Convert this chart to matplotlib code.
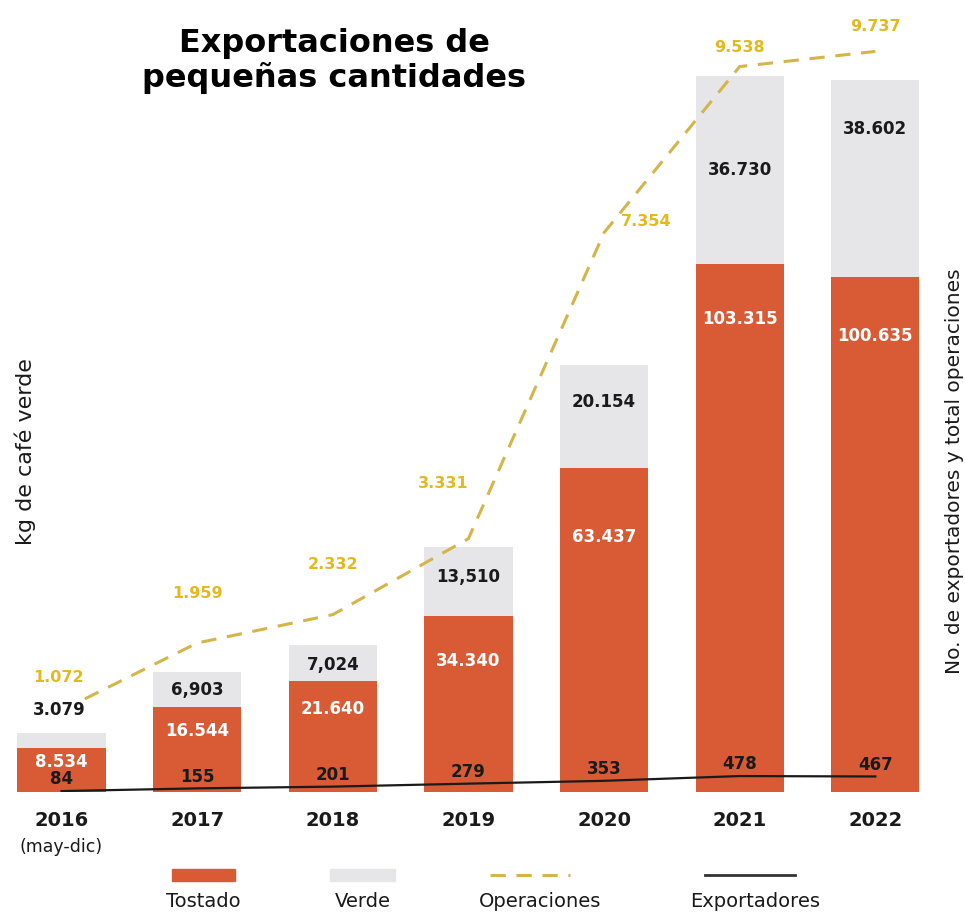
import matplotlib.pyplot as plt
from matplotlib.patches import Rectangle
from matplotlib.lines import Line2D

years = ['2016', '2017', '2018', '2019', '2020', '2021', '2022']
tostado = [8534, 16544, 21640, 34340, 63437, 103315, 100635]
verde = [3079, 6903, 7024, 13510, 20154, 36730, 38602]
verde_labels = ['3.079', '6,903', '7,024', '13,510', '20.154', '36.730', '38.602']
operaciones = [1072, 1959, 2332, 3331, 7354, 9538, 9737]
exportadores = [84, 155, 201, 279, 353, 478, 467]

c_tost = '#D85B35'
c_verde = '#E6E6E8'
c_oper = '#D4B54A'
c_oper_txt = '#E5B81E'

W, H = 965, 913
fig = plt.figure(figsize=(W / 100, H / 100), dpi=100)
ax = fig.add_axes([10 / W, 1 - 792 / H, 925 / W, 772 / H])
ax2 = ax.twinx()
ax3 = ax.twinx()

x = list(range(len(years)))
ax.bar(x, tostado, width=0.65, color=c_tost, zorder=2)
ax.bar(x, verde, width=0.65, bottom=tostado, color=c_verde, zorder=2)
ax.set_xlim(-0.38, 6.44)
ax.set_ylim(0, 151000)

fmt = lambda v: f'{v:,}'.replace(',', '.')
tost_off = [-10, -17, -20, -32, -50, -40, -42]
verde_off = [16, -13, -14, -21, -27, -68, -35]
for i in x:
    ax.annotate(fmt(tostado[i]), (i, tostado[i]), xytext=(0, tost_off[i]),
                textcoords='offset points', ha='center', va='center',
                color='white', fontsize=12, fontweight='bold', zorder=5)
    top = tostado[i] + verde[i]
    if i == 0:
        # sits on top of the dashed line start, like the original
        ax3.annotate(verde_labels[i], (i, top), xycoords=ax.transData, xytext=(-2, verde_off[i]),
                     textcoords='offset points', ha='center', va='center',
                     fontsize=12, fontweight='bold', color='#1a1a1a', zorder=6,
                     bbox=dict(boxstyle='square,pad=0.1', fc='white', ec='none'))
    else:
        ax.annotate(verde_labels[i], (i, top), xytext=(0, verde_off[i]),
                    textcoords='offset points', ha='center', va='center',
                    fontsize=12, fontweight='bold', color='#1a1a1a', zorder=5)

ax2.plot(x, operaciones, color=c_oper, lw=2.2, ls=(0, (5, 3.5)), zorder=3)
ax2.set_ylim(0, 10150)
oper_off = [(-2, 24), (0, 36), (0, 36), (-18, 40), (30, 8), (0, 14), (0, 18)]
for i in x:
    ax2.annotate(fmt(operaciones[i]), (i, operaciones[i]), xytext=oper_off[i],
                 textcoords='offset points', ha='center', va='center',
                 color=c_oper_txt, fontsize=11.5, fontweight='bold')

ax3.plot(x, exportadores, color='#1a1a1a', lw=1.6, zorder=4)
ax3.set_ylim(60, 20300)
for i in x:
    ax3.annotate(str(exportadores[i]), (i, exportadores[i]), xytext=(0, 8.5),
                 textcoords='offset points', ha='center', va='center',
                 color='#1a1a1a', fontsize=12, fontweight='bold', zorder=6)

for a in (ax, ax2, ax3):
    a.set_yticks([])
    for s in a.spines.values():
        s.set_visible(False)
ax2.set_xticks([])
ax3.set_xticks([])
ax.set_xticks(x)
ax.set_xticklabels(years, fontsize=14, fontweight='bold', color='#1a1a1a')
ax.tick_params(axis='x', length=0, pad=14)
ax.text(0, -0.071, '(may-dic)', transform=ax.get_xaxis_transform(),
        ha='center', va='center', fontsize=12.5, color='#1a1a1a')

fig.text(25 / W, 1 - 452 / H, 'kg de café verde', rotation=90, ha='center', va='center',
         fontsize=16, color='#1a1a1a')
fig.text(955 / W, 1 - 471 / H, 'No. de exportadores y total operaciones', rotation=90,
         ha='center', va='center', fontsize=14.5, color='#1a1a1a')
fig.text(334 / W, 1 - 61 / H, 'Exportaciones de\npequeñas cantidades', ha='center',
         va='center', fontsize=23, fontweight='bold', linespacing=1.15)

# legend at the bottom
lg = fig.add_axes([0, 0, 1, 1 - 850 / H])
lg.set_xlim(0, W)
lg.set_ylim(H, 850)
lg.axis('off')
lg.add_patch(Rectangle((172, 869), 63, 12, color=c_tost))
lg.add_patch(Rectangle((330, 869), 65, 12, color=c_verde))
lg.add_line(Line2D([490, 570], [875, 875], color=c_oper, lw=2.2, ls=(0, (5, 3.5))))
lg.add_line(Line2D([705, 795], [875, 875], color='#333333', lw=2))
for lx, lab in [(203, 'Tostado'), (363, 'Verde'), (540, 'Operaciones'), (755, 'Exportadores')]:
    lg.text(lx, 901, lab, ha='center', va='center', fontsize=14, color='#1a1a1a')

fig.savefig('out.png', dpi=100)
